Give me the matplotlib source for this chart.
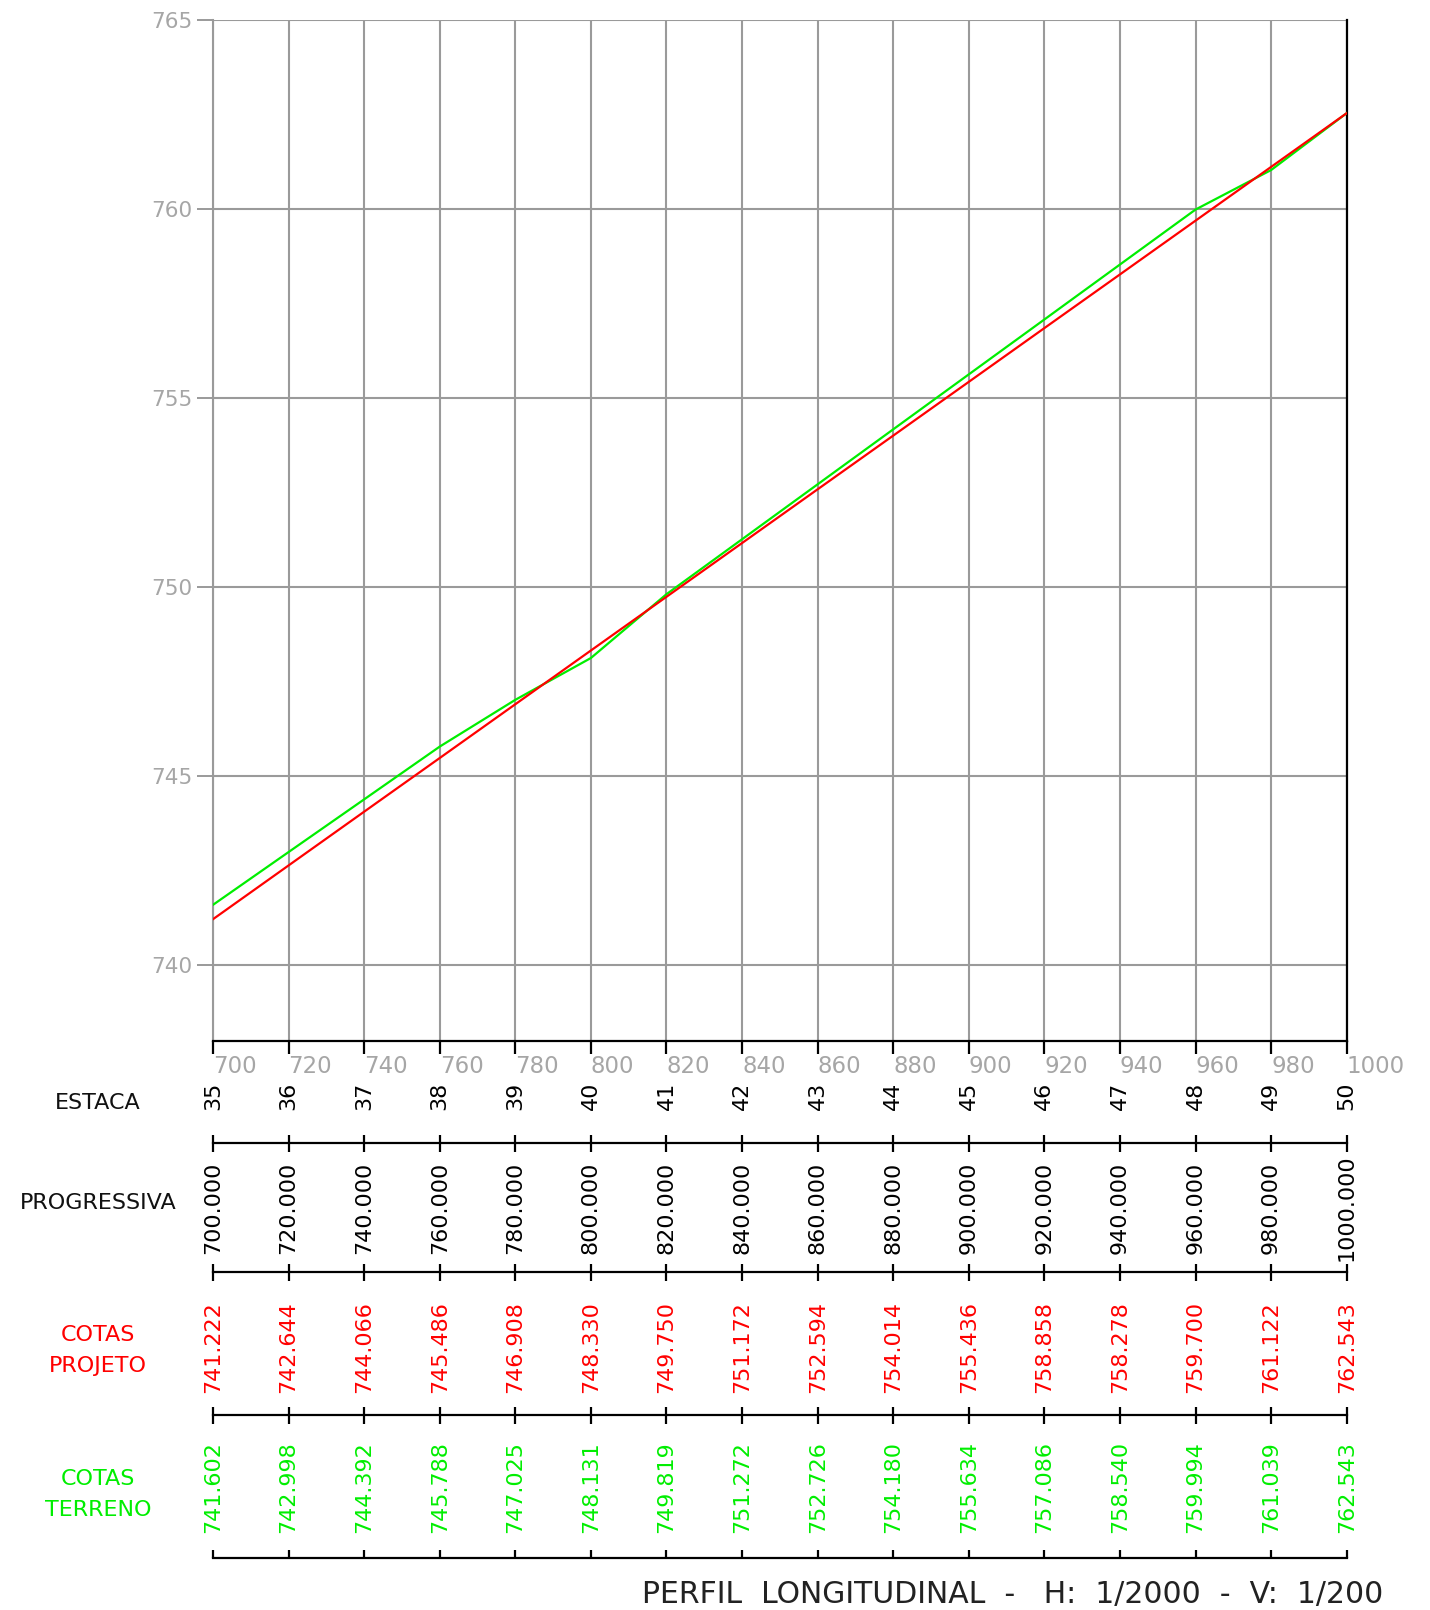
import numpy as np
import matplotlib.pyplot as plt
from matplotlib.transforms import blended_transform_factory

# stations / chainage
progressiva = [700, 720, 740, 760, 780, 800, 820, 840, 860, 880, 900, 920, 940, 960, 980, 1000]
estacas = [35, 36, 37, 38, 39, 40, 41, 42, 43, 44, 45, 46, 47, 48, 49, 50]

# project grade (red) and ground (green) elevations
cota_projeto = [741.222, 742.644, 744.066, 745.486, 746.908, 748.330, 749.750, 751.172,
                752.594, 754.014, 755.436, 756.858, 758.278, 759.700, 761.122, 762.543]
cota_projeto_txt = ["741.222", "742.644", "744.066", "745.486", "746.908", "748.330",
                    "749.750", "751.172", "752.594", "754.014", "755.436", "758.858",
                    "758.278", "759.700", "761.122", "762.543"]
cota_terreno = [741.602, 742.998, 744.392, 745.788, 747.025, 748.131, 749.819, 751.272,
                752.726, 754.180, 755.634, 757.086, 758.540, 759.994, 761.039, 762.543]

y_ticks = [740, 745, 750, 755, 760, 765]

GRAY = "#9a9a9a"
TXT_GRAY = "#a6a6a6"
RED = "#ff0000"
GREEN = "#00ee00"
W, H = 1430, 1610

plt.rcParams["font.family"] = ["DejaVu Sans"]

fig = plt.figure(figsize=(W / 100, H / 100), dpi=100)

# ---- profile plot ----
x0, x1 = 213, 1346.7
ytop, ybot = 20.3, 1041
ax = fig.add_axes([x0 / W, 1 - ybot / H, (x1 - x0) / W, (ybot - ytop) / H])
ax.set_xlim(700, 1000)
ax.set_ylim(738, 765)

for v in progressiva:
    ax.axvline(v, color=GRAY, lw=1.5, zorder=1)
for v in y_ticks:
    ax.axhline(v, color=GRAY, lw=1.5, zorder=1)

ax.plot(progressiva, cota_terreno, color=GREEN, lw=1.6, zorder=3)
ax.plot(progressiva, cota_projeto, color=RED, lw=1.6, zorder=4)

ax.spines["top"].set_visible(False)
ax.spines["left"].set_color(GRAY)
ax.spines["left"].set_linewidth(1.5)
ax.spines["right"].set_color("black")
ax.spines["right"].set_linewidth(1.6)
ax.spines["bottom"].set_color("black")
ax.spines["bottom"].set_linewidth(1.6)

ax.set_yticks(y_ticks)
ax.set_yticklabels([str(v) for v in y_ticks])
ax.tick_params(axis="y", colors=GRAY, labelcolor=TXT_GRAY, length=11.5, width=1.4,
               pad=3, labelsize=15.5)
ax.set_xticks(progressiva)
ax.set_xticklabels([str(v) for v in progressiva])
ax.tick_params(axis="x", colors="black", labelcolor=TXT_GRAY, length=9, width=1.6,
               pad=1, labelsize=16.5)
for lab in ax.get_xticklabels():
    lab.set_horizontalalignment("left")

# ---- data band below (y in pixel rows) ----
band_top, band_bot = 1041, 1570
bx = fig.add_axes([x0 / W, 1 - band_bot / H, (x1 - x0) / W, (band_bot - band_top) / H])
bx.set_xlim(700, 1000)
bx.set_ylim(band_bot, band_top)
bx.axis("off")

lines_y = [1143, 1272, 1415]
for ly in lines_y:
    bx.plot([700, 1000], [ly, ly], color="black", lw=1.6, clip_on=False)
    bx.vlines(progressiva, ly - 8.5, ly + 8.5, color="black", lw=1.6, clip_on=False)
bx.plot([700, 1000], [1558, 1558], color="black", lw=1.6, clip_on=False)
bx.vlines(progressiva, 1550, 1558, color="black", lw=1.6, clip_on=False)

fs = 16
for i, p in enumerate(progressiva):
    bx.text(p, 1110, str(estacas[i]), rotation=90, ha="center", va="bottom",
            fontsize=fs, color="black", clip_on=False)
    bx.text(p, 1208, f"{p:.3f}", rotation=90, ha="center", va="center",
            fontsize=fs, color="black", clip_on=False)
    bx.text(p, 1347, cota_projeto_txt[i], rotation=90, ha="center", va="center",
            fontsize=fs, color=RED, clip_on=False)
    bx.text(p, 1487, f"{cota_terreno[i]:.3f}", rotation=90, ha="center", va="center",
            fontsize=fs, color=GREEN, clip_on=False)

tr = blended_transform_factory(fig.transFigure, bx.transData)
lx = 98 / W
lfs = 16
bx.text(lx, 1103, "ESTACA", transform=tr, ha="center", va="center", fontsize=lfs, color="#111111")
bx.text(lx, 1203, "PROGRESSIVA", transform=tr, ha="center", va="center", fontsize=lfs, color="#111111")
bx.text(lx, 1335, "COTAS", transform=tr, ha="center", va="center", fontsize=lfs, color=RED)
bx.text(lx, 1366, "PROJETO", transform=tr, ha="center", va="center", fontsize=lfs, color=RED)
bx.text(lx, 1479, "COTAS", transform=tr, ha="center", va="center", fontsize=lfs, color=GREEN)
bx.text(lx, 1510, "TERRENO", transform=tr, ha="center", va="center", fontsize=lfs, color=GREEN)

fig.text(1383 / W, 1 - 1594 / H, "PERFIL  LONGITUDINAL  -   H:  1/2000  -  V:  1/200",
         ha="right", va="center", fontsize=21.5, color="#222222")

fig.savefig("out.png", dpi=100)
